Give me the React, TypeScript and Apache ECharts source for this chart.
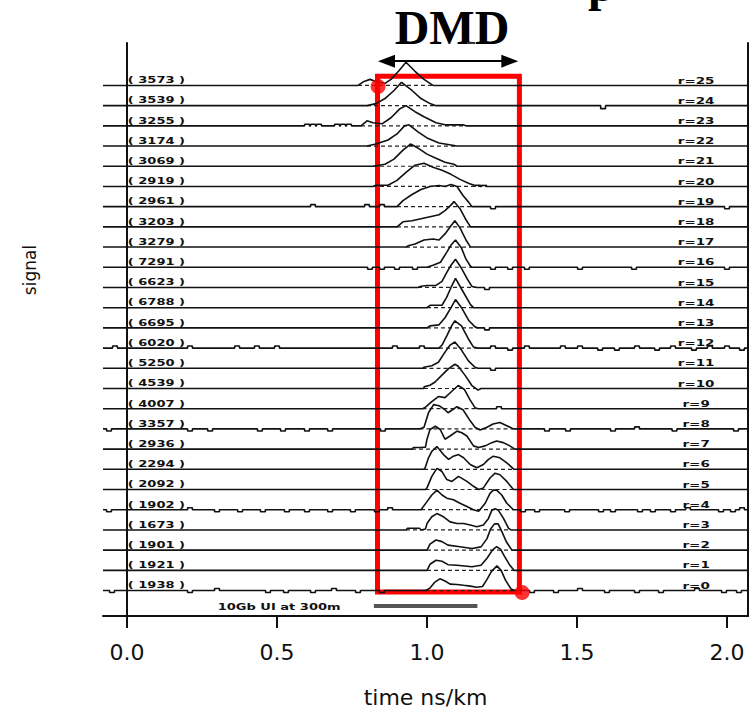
import React, { useEffect, useRef } from "react";
import * as echarts from "echarts";

// ---------- data ----------
const radii = [0, 1, 2, 3, 4, 5, 6, 7, 8, 9, 10, 11, 12, 13, 14, 15, 16, 17, 18, 19, 20, 21, 22, 23, 24, 25];

const peakCounts = [
  "1938", "1921", "1901", "1673", "1902", "2092", "2294", "2936", "3357", "4007",
  "4539", "5250", "6020", "6695", "6788", "6623", "7291", "3279", "3203", "2961",
  "2919", "3069", "3174", "3255", "3539", "3573",
];

const xTicks = [0, 0.5, 1.0, 1.5, 2.0];

// pulse shapes per radial offset: [time ns/km, height above trace baseline]
const pulses: number[][][] = [
  // r=0
  [[0.995, 0], [1.01, 0.12], [1.025, 0.4], [1.043, 0.58], [1.06, 0.47], [1.077, 0.32], [1.1, 0.3], [1.122, 0.26], [1.145, 0.22], [1.165, 0.16], [1.185, 0.2], [1.2, 0.55], [1.215, 0.95], [1.233, 1.22], [1.247, 1.0], [1.262, 0.5], [1.28, 0.08], [1.292, 0]],
  // r=1
  [[1.0, 0], [1.01, 0.3], [1.03, 0.5], [1.05, 0.45], [1.07, 0.28], [1.1, 0.25], [1.15, 0.18], [1.18, 0.25], [1.2, 0.6], [1.218, 1.0], [1.232, 1.17], [1.245, 1.05], [1.258, 0.7], [1.275, 0.28], [1.29, 0]],
  // r=2
  [[1.0, 0], [1.01, 0.3], [1.03, 0.5], [1.05, 0.42], [1.07, 0.25], [1.11, 0.17], [1.15, 0.08], [1.18, 0.16], [1.2, 0.57], [1.212, 1.05], [1.225, 1.3], [1.237, 1.3], [1.25, 0.9], [1.265, 0.4], [1.283, 0]],
  // r=3
  [[0.93, 0], [0.935, 0.08], [0.975, 0.08], [0.98, 0], [0.995, 0.05], [1.0, 0.32], [1.016, 0.65], [1.033, 0.81], [1.055, 0.65], [1.077, 0.4], [1.1, 0.32], [1.122, 0.32], [1.144, 0.24], [1.166, 0.16], [1.188, 0.24], [1.205, 0.57], [1.216, 0.97], [1.227, 1.05], [1.238, 0.97], [1.255, 0.57], [1.272, 0.08], [1.28, 0]],
  // r=4
  [[0.98, 0], [1.0, 0.4], [1.016, 0.73], [1.033, 0.97], [1.05, 0.73], [1.066, 0.57], [1.088, 0.49], [1.11, 0.32], [1.133, 0.16], [1.155, 0], [1.172, -0.08], [1.194, 0.32], [1.21, 0.81], [1.221, 0.97], [1.232, 0.97], [1.249, 0.73], [1.266, 0.32], [1.288, 0]],
  // r=5
  [[0.995, 0], [1.0, 0.08], [1.016, 0.65], [1.033, 1.05], [1.05, 0.89], [1.066, 0.49], [1.083, 0.4], [1.105, 0.65], [1.133, 0.4], [1.155, 0.16], [1.172, 0], [1.188, 0.08], [1.21, 0.57], [1.227, 0.81], [1.243, 0.73], [1.266, 0.4], [1.288, 0]],
  // r=6
  [[0.99, 0], [0.994, 0.08], [1.005, 0.57], [1.016, 0.89], [1.033, 1.13], [1.055, 0.73], [1.072, 0.49], [1.088, 0.65], [1.105, 0.73], [1.122, 0.57], [1.144, 0.24], [1.166, 0.08], [1.188, 0.24], [1.205, 0.49], [1.221, 0.65], [1.243, 0.57], [1.266, 0.32], [1.29, 0]],
  // r=7
  [[0.95, 0], [0.955, 0.08], [0.98, 0.08], [0.995, 0.1], [1.0, 0.49], [1.01, 0.97], [1.028, 1.13], [1.044, 0.97], [1.06, 0.49], [1.077, 0.65], [1.1, 0.89], [1.116, 0.81], [1.133, 0.65], [1.155, 0.16], [1.172, 0.08], [1.194, 0.16], [1.216, 0.32], [1.232, 0.4], [1.254, 0.32], [1.276, 0.16], [1.293, 0]],
  // r=8
  [[0.975, 0], [0.99, 0.08], [1.005, 0.8], [1.022, 1.2], [1.04, 1.15], [1.06, 0.95], [1.07, 0.8], [1.085, 0.95], [1.1, 1.1], [1.12, 0.95], [1.144, 0.4], [1.16, 0.08], [1.177, -0.05], [1.2, 0.08], [1.22, 0.24], [1.243, 0.32], [1.266, 0.16], [1.288, 0]],
  // r=9
  [[0.985, 0], [0.995, 0.08], [1.016, 0.35], [1.038, 0.6], [1.06, 0.55], [1.082, 0.85], [1.104, 1.15], [1.125, 0.95], [1.143, 0.45], [1.16, 0.05], [1.17, 0]],
  // r=10
  [[0.99, 0], [0.99, 0.08], [1.01, 0.16], [1.027, 0.32], [1.049, 0.65], [1.071, 0.97], [1.093, 1.2], [1.104, 1.1], [1.127, 0.65], [1.149, 0.16], [1.17, -0.08], [1.18, 0]],
  // r=11
  [[0.985, 0], [0.99, 0.05], [1.016, 0.13], [1.038, 0.3], [1.06, 0.8], [1.077, 1.15], [1.093, 1.3], [1.115, 0.9], [1.138, 0.37], [1.16, 0.05], [1.17, 0]],
  // r=12
  [[1.04, 0], [1.05, 0.15], [1.066, 0.6], [1.082, 1.1], [1.093, 1.35], [1.115, 1.1], [1.138, 0.45], [1.155, 0.05], [1.17, 0]],
  // r=13
  [[1.0, 0], [1.01, 0.1], [1.04, 0.15], [1.06, 0.5], [1.08, 1.0], [1.095, 1.4], [1.115, 1.0], [1.14, 0.35], [1.16, 0.05], [1.17, 0]],
  // r=14
  [[1.0, 0], [1.01, 0.12], [1.05, 0.12], [1.065, 0.5], [1.08, 1.0], [1.095, 1.45], [1.12, 0.8], [1.145, 0.15], [1.155, 0]],
  // r=15
  [[0.97, 0], [0.98, 0.06], [1.0, 0.1], [1.03, 0.1], [1.05, 0.3], [1.066, 0.75], [1.08, 1.1], [1.095, 1.4], [1.115, 0.95], [1.135, 0.4], [1.15, 0.05], [1.165, 0]],
  // r=16
  [[1.0, 0], [1.02, 0.1], [1.045, 0.25], [1.066, 0.75], [1.08, 1.1], [1.095, 1.35], [1.115, 0.95], [1.13, 0.4], [1.145, 0.05], [1.15, 0]],
  // r=17
  [[0.93, 0], [0.94, 0.08], [0.96, 0.15], [0.99, 0.35], [1.02, 0.4], [1.04, 0.35], [1.06, 0.65], [1.08, 1.05], [1.093, 1.3], [1.11, 0.95], [1.13, 0.35], [1.145, 0]],
  // r=18
  [[0.9, 0], [0.92, 0.25], [0.95, 0.3], [0.98, 0.4], [1.01, 0.5], [1.04, 0.6], [1.06, 0.8], [1.078, 1.05], [1.09, 1.25], [1.11, 0.9], [1.13, 0.35], [1.145, 0]],
  // r=19
  [[0.9, 0], [0.92, 0.3], [0.95, 0.6], [0.98, 0.85], [1.01, 1.0], [1.04, 1.05], [1.06, 1.0], [1.08, 1.1], [1.1, 1.0], [1.12, 0.55], [1.14, 0.2], [1.15, 0]],
  // r=20
  [[0.82, 0], [0.83, 0.06], [0.87, 0.06], [0.9, 0.3], [0.93, 0.7], [0.96, 1.05], [0.99, 1.15], [1.02, 0.95], [1.05, 0.8], [1.08, 0.6], [1.11, 0.35], [1.14, 0.15], [1.16, 0.05], [1.19, 0.05], [1.2, 0]],
  // r=21
  [[0.82, 0], [0.86, 0.1], [0.89, 0.35], [0.92, 0.8], [0.945, 1.1], [0.97, 0.9], [1.0, 0.6], [1.03, 0.4], [1.06, 0.2], [1.09, 0.1], [1.1, 0]],
  // r=22
  [[0.8, 0], [0.83, 0.1], [0.87, 0.3], [0.9, 0.6], [0.925, 1.0], [0.94, 1.05], [0.97, 0.7], [1.0, 0.4], [1.04, 0.15], [1.08, 0.05], [1.1, 0]],
  // r=23
  [[0.78, 0], [0.8, 0.25], [0.82, 0.15], [0.85, 0.1], [0.88, 0.4], [0.91, 0.85], [0.93, 1.0], [0.96, 0.7], [0.99, 0.45], [1.03, 0.15], [1.06, 0.05], [1.12, 0.05], [1.13, 0]],
  // r=24
  [[0.8, 0], [0.83, 0.1], [0.86, 0.35], [0.89, 0.75], [0.915, 1.15], [0.95, 0.75], [0.98, 0.35], [1.01, 0.1], [1.03, 0]],
  // r=25
  [[0.77, 0], [0.79, 0.2], [0.81, 0.3], [0.83, 0.2], [0.86, 0.1], [0.88, 0.3], [0.905, 0.7], [0.93, 1.15], [0.96, 0.7], [0.99, 0.3], [1.02, 0]],
];

// small noise blips on some traces: [time, height]
const blips: number[][][] = [
  [[-0.05, -0.1], [0.21, -0.1], [0.3, 0.1], [0.47, -0.1], [0.53, -0.1], [0.62, -0.1], [0.69, 0.1], [0.77, -0.1], [0.85, -0.1], [1.35, -0.1], [1.43, -0.1], [1.51, 0.1], [1.6, -0.1], [1.7, -0.1], [1.78, -0.1], [1.9, 0.1], [1.99, -0.1], [2.04, -0.1]],
  [], [], [],
  [[-0.06, -0.1], [0.21, 0.1], [0.3, -0.1], [0.377, -0.1], [0.453, -0.1], [0.533, -0.1], [0.6, -0.1], [0.677, -0.1], [0.753, -0.1], [0.833, -0.1], [0.877, 0.1], [1.32, -0.1], [1.367, -0.1], [1.467, -0.1], [1.58, -0.1], [1.62, -0.1], [1.71, -0.1], [1.753, -0.1], [1.82, -0.1], [1.87, 0.1], [1.98, -0.1], [2.02, -0.1], [2.05, 0.1]],
  [], [], [],
  [[-0.06, -0.1], [0.21, -0.1], [0.277, -0.1], [0.443, -0.1], [0.52, -0.1], [0.6, -0.1], [0.677, -0.1], [0.853, -0.1], [1.4, -0.1], [1.47, -0.1], [1.62, -0.1], [1.7, 0.1], [1.825, -0.1], [2.03, -0.1]],
  [[1.24, 0.1]],
  [],
  [[1.22, -0.1]],
  [[-0.04, 0.1], [0.21, 0.1], [0.367, 0.1], [0.433, 0.1], [0.5, 0.1], [0.893, 0.1], [0.983, 0.1], [1.22, 0.1], [1.277, -0.1], [1.333, 0.1], [1.453, 0.1], [1.51, 0.1], [1.577, -0.1], [1.633, -0.1], [1.7, 0.1], [1.767, -0.1], [1.82, 0.1], [1.89, -0.1], [1.943, 0.1], [2.0, 0.1], [2.05, -0.1]],
  [[1.2, -0.1]],
  [],
  [[1.2, -0.1]],
  [[0.81, -0.1], [0.85, -0.1], [0.9, -0.1], [0.96, -0.1], [1.22, -0.1], [1.277, -0.1], [1.333, -0.1], [1.51, -0.1], [1.69, -0.1], [2.0, -0.1]],
  [],
  [],
  [[0.62, 0.1], [0.8, 0.1], [0.85, 0.1], [1.22, -0.1], [2.0, -0.1]],
  [[1.17, 0.06], [1.19, 0.06]],
  [],
  [],
  [[0.6, 0.08], [0.62, 0.08], [0.64, 0.08], [0.7, 0.08], [0.72, 0.08], [0.74, 0.08]],
  [[1.587, -0.15]],
  [],
];

const X_MIN = -0.08;
const X_MAX = 2.07;
const Y_MIN = -1.26;
const Y_MAX = 27.1;
const BLIP_HALF = 0.008;

const LEFT_LABEL_T = 0.098;
const RIGHT_LABEL_T = 1.897;

// annotations (data coordinates)
const dmdBox = { t0: 0.835, t1: 1.308, r0: -0.07, r1: 25.46 };
const dmdDots = [[0.837, 24.95], [1.317, -0.1]];
const dmdArrow = { t0: 0.865, t1: 1.276, r: 26.2 };
const uiBar = { t0: 0.823, t1: 1.168, r: -0.75 };
const uiLabel = { t: 0.507, r: -0.8, text: "10Gb UI at 300m" };

function buildTrace(r: number, idx: number) {
  const pts: number[][] = [[X_MIN, 0], [X_MAX, 0]];
  for (const [t, dh] of blips[idx]) {
    pts.push([t - BLIP_HALF, 0], [t - BLIP_HALF, dh], [t + BLIP_HALF, dh], [t + BLIP_HALF, 0]);
  }
  for (const p of pulses[idx]) pts.push([p[0], p[1]]);
  pts.sort((a, b) => a[0] - b[0]);
  return pts.map(([t, h]) => [t, r + h]);
}

export default function App() {
  const ref = useRef<HTMLDivElement>(null);

  useEffect(() => {
    if (!ref.current) return;
    const chart = echarts.init(ref.current, undefined, { renderer: "svg" });

    const traceSeries: any[] = [];
    radii.forEach((r, idx) => {
      traceSeries.push({
        type: "line",
        data: buildTrace(r, idx),
        symbol: "none",
        silent: true,
        lineStyle: { color: "#111", width: 1.6 },
        z: 2,
      });
      const pl = pulses[idx];
      traceSeries.push({
        type: "line",
        data: [[pl[0][0], r], [pl[pl.length - 1][0], r]],
        symbol: "none",
        silent: true,
        lineStyle: { color: "#222", width: 1.2, type: [4, 3] },
        z: 1,
      });
    });

    const leftLabels = {
      type: "custom",
      data: radii.map((r) => [LEFT_LABEL_T, r]),
      silent: true,
      z: 3,
      renderItem: (params: any, api: any) => {
        const p = api.coord([api.value(0), api.value(1)]);
        return {
          type: "text",
          x: p[0],
          y: p[1] - 5,
          scaleX: 1.45,
          style: {
            text: "( " + peakCounts[params.dataIndex] + " )",
            fontFamily: "DejaVu Sans",
            fontWeight: "bold",
            fontSize: 9,
            fill: "#111",
            align: "center",
            verticalAlign: "middle",
          },
        };
      },
    };

    const rightLabels = {
      type: "custom",
      data: radii.map((r) => [RIGHT_LABEL_T, r]),
      silent: true,
      z: 3,
      renderItem: (params: any, api: any) => {
        const p = api.coord([api.value(0), api.value(1)]);
        return {
          type: "text",
          x: p[0],
          y: p[1] - 5,
          scaleX: 1.5,
          style: {
            text: "r=" + radii[params.dataIndex],
            fontFamily: "DejaVu Sans",
            fontWeight: "bold",
            fontSize: 9,
            fill: "#111",
            align: "center",
            verticalAlign: "middle",
          },
        };
      },
    };

    const uiText = {
      type: "custom",
      data: [[uiLabel.t, uiLabel.r]],
      silent: true,
      z: 3,
      renderItem: (_params: any, api: any) => {
        const p = api.coord([api.value(0), api.value(1)]);
        return {
          type: "text",
          x: p[0],
          y: p[1],
          scaleX: 1.45,
          style: {
            text: uiLabel.text,
            fontFamily: "DejaVu Sans",
            fontWeight: "bold",
            fontSize: 9,
            fill: "#111",
            align: "center",
            verticalAlign: "middle",
          },
        };
      },
    };

    const annotations = {
      type: "line",
      data: [],
      silent: true,
      z: 10,
      markArea: {
        silent: true,
        itemStyle: { color: "rgba(0,0,0,0)", borderColor: "#ff0000", borderWidth: 5 },
        data: [[{ coord: [dmdBox.t0, dmdBox.r1] }, { coord: [dmdBox.t1, dmdBox.r0] }]],
      },
      markLine: {
        silent: true,
        animation: false,
        label: { show: false },
        data: [
          [
            { coord: [dmdArrow.t0, dmdArrow.r], symbol: "triangle", symbolSize: [13, 17], lineStyle: { color: "#000", width: 2, type: "solid" }, itemStyle: { color: "#000" } },
            { coord: [dmdArrow.t1, dmdArrow.r], symbol: "triangle", symbolSize: [13, 17] },
          ],
          [
            { coord: [uiBar.t0, uiBar.r], symbol: "none", lineStyle: { color: "#555", width: 4, type: "solid" } },
            { coord: [uiBar.t1, uiBar.r], symbol: "none" },
          ],
        ],
      },
    };

    const dots = {
      type: "scatter",
      data: dmdDots,
      symbol: "circle",
      symbolSize: 15,
      silent: true,
      itemStyle: { color: "#ff0000" },
      z: 11,
    };

    chart.setOption({
      animation: false,
      backgroundColor: "#ffffff",
      grid: { left: 103, right: 3, top: 43, bottom: 87 },
      xAxis: {
        type: "value",
        min: X_MIN,
        max: X_MAX,
        axisLine: { show: true, onZero: false, lineStyle: { color: "#111", width: 2 } },
        axisTick: { show: true, customValues: xTicks, length: 12, lineStyle: { color: "#111", width: 2 } },
        axisLabel: {
          customValues: xTicks,
          formatter: (v: number) => v.toFixed(1),
          fontFamily: "DejaVu Sans",
          fontSize: 22,
          color: "#111",
          margin: 25,
        },
        splitLine: { show: false },
        name: "time ns/km",
        nameLocation: "middle",
        nameGap: 70,
        nameTextStyle: { fontFamily: "DejaVu Sans", fontSize: 22, color: "#111" },
      },
      yAxis: [
        {
          type: "value",
          min: Y_MIN,
          max: Y_MAX,
          position: "left",
          axisLine: { show: true, lineStyle: { color: "#111", width: 2 } },
          axisTick: { show: false },
          axisLabel: { show: false },
          splitLine: { show: false },
        },
        {
          type: "value",
          min: Y_MIN,
          max: Y_MAX,
          position: "right",
          axisLine: { show: true, lineStyle: { color: "#111", width: 2 } },
          axisTick: { show: false },
          axisLabel: { show: false },
          splitLine: { show: false },
        },
      ],
      graphic: [
        {
          type: "text",
          x: 452,
          y: 27,
          style: {
            text: "DMD",
            fontFamily: "Liberation Serif",
            fontWeight: "bold",
            fontSize: 48,
            fill: "#000",
            align: "center",
            verticalAlign: "middle",
          },
        },
        {
          type: "rect",
          shape: { x: 467, y: 42, width: 8, height: 2 },
          style: { fill: "#333" },
        },
        {
          type: "text",
          x: 588,
          y: -16,
          style: {
            text: "p",
            fontFamily: "Liberation Serif",
            fontWeight: "bold",
            fontSize: 48,
            fill: "#000",
            align: "left",
            verticalAlign: "middle",
          },
        },
        {
          type: "text",
          x: 30,
          y: 270,
          rotation: Math.PI / 2,
          style: {
            text: "signal",
            fontFamily: "DejaVu Sans",
            fontSize: 17,
            fill: "#111",
            align: "center",
            verticalAlign: "middle",
          },
        },
      ],
      series: [...traceSeries, leftLabels, rightLabels, uiText, annotations, dots],
    });

    return () => chart.dispose();
  }, []);

  return (
    <div
      ref={ref}
      style={{ position: "fixed", left: 0, top: 0, width: 751, height: 713, background: "#fff" }}
    />
  );
}
